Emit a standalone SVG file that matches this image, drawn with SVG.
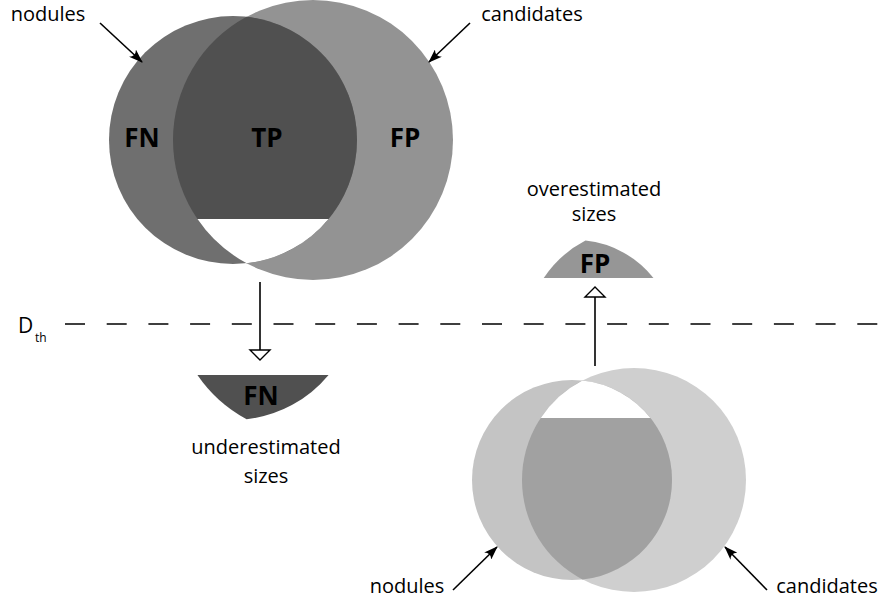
<svg xmlns="http://www.w3.org/2000/svg" width="888" height="605" viewBox="0 0 888 605">
<style>
.lbl{font-family:"Open Sans","Liberation Sans",sans-serif;font-size:20px;fill:#000;text-anchor:middle}
.big{font-family:"Open Sans","Liberation Sans",sans-serif;font-size:26px;font-weight:bold;fill:#000;text-anchor:middle}
.sym{font-family:"Open Sans","Liberation Sans",sans-serif;fill:#000}
.ptr{stroke:#000;stroke-width:1.6;fill:none}
.flow{stroke:#000;stroke-width:1.6;fill:none}
</style>
<defs>
<marker id="barb" markerUnits="userSpaceOnUse" viewBox="0 0 14 10" refX="13" refY="5" markerWidth="14" markerHeight="10" orient="auto">
<path d="M14,5 L0,0 Q5,5 0,10 Z" fill="#000"/>
</marker>
<marker id="open" markerUnits="userSpaceOnUse" viewBox="-2 -12 14 24" refX="10" refY="0" markerWidth="14" markerHeight="24" orient="auto">
<path d="M0,-10 L10,0 L0,10 Z" fill="#fff" stroke="#000" stroke-width="1.4"/>
</marker>
<path id="seg" d="M197.42,219 L328.58,219 A124,124 0 0,1 246.6,263.25 A140,140 0 0,1 197.42,219 Z"/>
<path id="segB" d="M540.73,418 L650.46,418 A100,100 0 0,0 582.48,380.55 A112,112 0 0,0 540.73,418 Z"/>
</defs>

<g id="top-venn">
<circle cx="313" cy="140" r="140" fill="#939393"/>
<circle cx="233" cy="140" r="124" fill="#6f6f6f"/>
<path d="M246.6,16.75 A124,124 0 0,1 246.6,263.25 A140,140 0 0,1 246.6,16.75 Z" fill="#505050"/>
<use href="#seg" fill="#fff"/>
<text class="big" x="142" y="147">FN</text>
<text class="big" x="267" y="147">TP</text>
<text class="big" x="405" y="147">FP</text>
</g>

<g id="label-nodules-top"><text class="lbl" x="48" y="21">nodules</text></g>
<g id="label-candidates-top"><text class="lbl" x="532" y="21">candidates</text></g>

<g id="threshold">
<line x1="65" y1="324" x2="878" y2="324" stroke="#000" stroke-width="1.6" stroke-dasharray="20 21.7"/>
<text class="sym" x="18" y="333" font-size="21">D</text>
<text class="sym" x="35" y="342" font-size="12">th</text>
</g>

<g id="fn-under">
<use href="#seg" transform="translate(0,156)" fill="#505050"/>
<text class="big" x="261" y="405">FN</text>
<text class="lbl" x="266" y="454">underestimated</text>
<text class="lbl" x="266" y="483">sizes</text>
</g>

<g id="fp-over">
<use href="#segB" transform="translate(3,-140)" fill="#969696"/>
<text class="big" x="595" y="273">FP</text>
<text class="lbl" x="594" y="196">overestimated</text>
<text class="lbl" x="594" y="221">sizes</text>
</g>

<g id="bottom-venn">
<circle cx="634" cy="480" r="112" fill="#cfcfcf"/>
<circle cx="572" cy="480" r="100" fill="#c4c4c4"/>
<path d="M582.48,380.55 A112,112 0 0,0 582.48,579.45 A100,100 0 0,0 582.48,380.55 Z" fill="#a1a1a1"/>
<use href="#segB" fill="#fff"/>
</g>

<g id="label-nodules-bottom"><text class="lbl" x="407" y="593">nodules</text></g>
<g id="label-candidates-bottom"><text class="lbl" x="827" y="593">candidates</text></g>

<g id="connectors">
<line class="ptr" x1="100" y1="23" x2="142" y2="62" marker-end="url(#barb)"/>
<line class="ptr" x1="470" y1="23" x2="429" y2="62" marker-end="url(#barb)"/>
<line class="ptr" x1="453" y1="590" x2="497" y2="547" marker-end="url(#barb)"/>
<line class="ptr" x1="767" y1="590" x2="725" y2="547" marker-end="url(#barb)"/>
<line class="flow" x1="260" y1="282" x2="260" y2="360" marker-end="url(#open)"/>
<line class="flow" x1="595" y1="366" x2="595" y2="287" marker-end="url(#open)"/>
</g>
</svg>
